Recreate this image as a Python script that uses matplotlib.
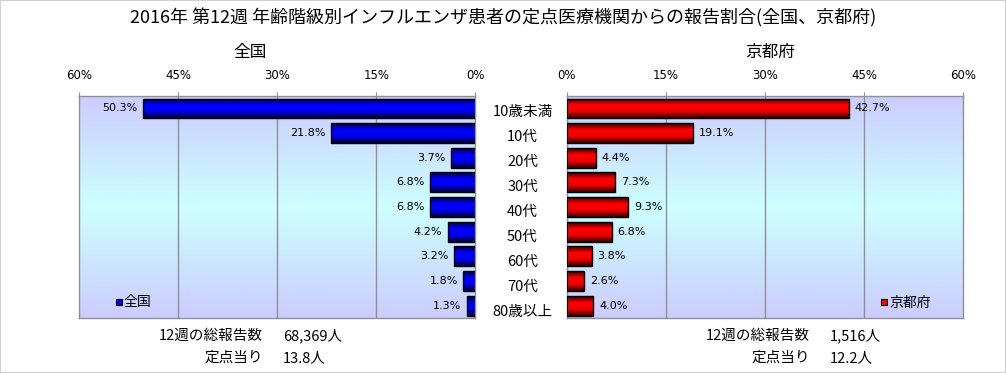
import numpy as np
import matplotlib
matplotlib.use("Agg")
import matplotlib.pyplot as plt
from matplotlib.colors import LinearSegmentedColormap
from matplotlib.patches import Rectangle

plt.rcParams['font.family'] = ['Noto Sans CJK JP', 'DejaVu Sans']

categories = ["10歳未満", "10代", "20代", "30代", "40代", "50代", "60代", "70代", "80歳以上"]
national = [50.3, 21.8, 3.7, 6.8, 6.8, 4.2, 3.2, 1.8, 1.3]
kyoto = [42.7, 19.1, 4.4, 7.3, 9.3, 6.8, 3.8, 2.6, 4.0]
ticks = [0, 15, 30, 45, 60]
tick_labels = ["0%", "15%", "30%", "45%", "60%"]
title = "2016年 第12週 年齢階級別インフルエンザ患者の定点医療機関からの報告割合(全国、京都府)"
nat_total = ("12週の総報告数", "68,369人")
nat_per = ("定点当り", "13.8人")
kyo_total = ("12週の総報告数", "1,516人")
kyo_per = ("定点当り", "12.2人")

fig = plt.figure(figsize=(10.06, 3.73), dpi=100)
fig.patches.append(Rectangle((0, 0), 1, 1, transform=fig.transFigure,
                             fill=False, edgecolor="#D0D0D0", lw=1.5))

bg_cmap = LinearSegmentedColormap.from_list("bg", ["#CCCCFF", "#CCFFFF", "#CCCCFF"])
bar_cmaps = {
    "blue": LinearSegmentedColormap.from_list("bb", ["#000033", "#0000FF", "#0000EE", "#000033"]),
    "red": LinearSegmentedColormap.from_list("rb", ["#330000", "#FF0000", "#EE0000", "#330000"]),
}

y = np.arange(len(categories))
bh = 0.8

def panel(rect, values, inverted, cmap_key, legend_label, legend_color, legend_x):
    ax = fig.add_axes(rect)
    ax.set_xlim(60, 0) if inverted else ax.set_xlim(0, 60)
    ax.set_ylim(len(categories) - 0.5, -0.5)
    grad = np.linspace(0, 1, 256).reshape(-1, 1)
    ax.imshow(grad, cmap=bg_cmap, aspect="auto",
              extent=(ax.get_xlim()[0], ax.get_xlim()[1], len(categories) - 0.5, -0.5),
              zorder=0)
    for t in ticks[1:-1]:
        ax.axvline(t, color="#909090", lw=1, zorder=1)
    bars = ax.barh(y, values, height=bh, color="none", edgecolor="black", lw=1, zorder=3)
    bgrad = np.linspace(0, 1, 64).reshape(-1, 1)
    for b, v in zip(bars, values):
        im = ax.imshow(bgrad, cmap=bar_cmaps[cmap_key], aspect="auto",
                       extent=(0, v, b.get_y() + bh, b.get_y()), zorder=2)
        im.set_clip_path(b)
    for yi, v in zip(y, values):
        ax.annotate(f"{v:.1f}%", (v, yi), xytext=(-4 if inverted else 4, 0),
                    textcoords="offset points", ha="right" if inverted else "left",
                    va="center", fontsize=8, family=['DejaVu Sans'])
    ax.set_xticks(ticks)
    ax.set_xticklabels(tick_labels, fontsize=8.5, family=['DejaVu Sans'])
    ax.xaxis.tick_top()
    ax.tick_params(axis="x", length=3, color="#909090", pad=7)
    ax.set_yticks([])
    for s in ax.spines.values():
        s.set_color("#909090")
        s.set_linewidth(1)
    ax.set_xlim(60, 0) if inverted else ax.set_xlim(0, 60)
    ax.set_ylim(len(categories) - 0.5, -0.5)
    ax.plot([legend_x], [0.07], marker="s", ms=5, color=legend_color, mec="black",
            mew=0.8, transform=ax.transAxes, zorder=5, clip_on=False)
    ax.text(legend_x + 0.013, 0.07, legend_label, transform=ax.transAxes,
            fontsize=10, va="center", ha="left", zorder=5)
    return ax

ax1 = panel([0.0785, 0.1475, 0.394, 0.595], national, True, "blue", "全国", "#0000FF", 0.10)
ax2 = panel([0.5636, 0.1475, 0.394, 0.595], kyoto, False, "red", "京都府", "#FF0000", 0.80)

for yi, c in zip(y, categories):
    ax1.annotate(c, xy=(0, yi), xycoords="data", xytext=(34, -2.5 - 0.3 * yi),
                 textcoords="offset points", ha="center", va="center", fontsize=10.5)

fig.text(0.5, 0.952, title, ha="center", va="center", fontsize=13)
fig.text(0.249, 0.86, "全国", ha="center", va="center", fontsize=12)
fig.text(0.766, 0.86, "京都府", ha="center", va="center", fontsize=12)

fig.text(0.261, 0.100, nat_total[0], ha="right", va="center", fontsize=10.5)
fig.text(0.281, 0.100, nat_total[1], ha="left", va="center", fontsize=10.5)
fig.text(0.261, 0.040, nat_per[0], ha="right", va="center", fontsize=10.5)
fig.text(0.281, 0.040, nat_per[1], ha="left", va="center", fontsize=10.5)
fig.text(0.805, 0.100, kyo_total[0], ha="right", va="center", fontsize=10.5)
fig.text(0.825, 0.100, kyo_total[1], ha="left", va="center", fontsize=10.5)
fig.text(0.805, 0.040, kyo_per[0], ha="right", va="center", fontsize=10.5)
fig.text(0.825, 0.040, kyo_per[1], ha="left", va="center", fontsize=10.5)

fig.savefig("out.png", dpi=100)
